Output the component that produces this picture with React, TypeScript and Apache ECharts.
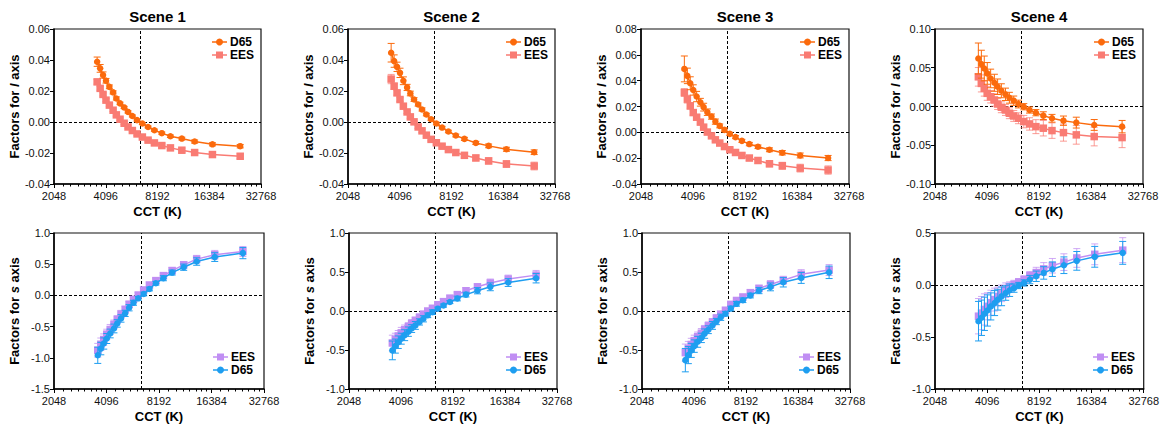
import React, { useEffect, useRef } from "react";
import * as echarts from "echarts";

// ---------- data ----------
const CCT = [3650, 3800, 3950, 4110, 4300, 4520, 4720, 4960, 5240, 5520, 5850, 6230, 6690, 7220, 7860, 8680, 9740, 11350, 13470, 17100, 24800];
const X_TICKS = [2048, 4096, 8192, 16384, 32768];
const D65_CCT = 6504;
const SCENES = ["Scene 1", "Scene 2", "Scene 3", "Scene 4"];

// l axis (top row)
const L1_D65 = [0.0389, 0.0346, 0.0303, 0.0266, 0.0227, 0.0191, 0.0152, 0.012, 0.0094, 0.0065, 0.0039, 0.0012, -0.001, -0.0032, -0.0053, -0.0072, -0.0092, -0.0107, -0.0126, -0.0144, -0.0156];
const L1_D65_ERR = [0.003, 0.0025, 0.002, 0.0015, 0.0012, 0.001, 0.001, 0.0008, 0.0007, 0.0007, 0.0006, 0.0006, 0.0006, 0.0006, 0.0007, 0.0007, 0.0008, 0.0009, 0.001, 0.001, 0.0011];
const L1_EES = [0.0259, 0.0217, 0.0178, 0.0141, 0.0109, 0.0076, 0.0046, 0.0018, -0.0008, -0.0032, -0.0055, -0.0077, -0.0097, -0.0117, -0.0135, -0.0152, -0.0167, -0.0182, -0.0197, -0.021, -0.0221];
const L1_EES_ERR = [0.0015, 0.0012, 0.001, 0.001, 0.0009, 0.0008, 0.0008, 0.0008, 0.0008, 0.0008, 0.0008, 0.0009, 0.0009, 0.001, 0.001, 0.0011, 0.0012, 0.0013, 0.0014, 0.0015, 0.0016];

const L2_D65 = [0.0447, 0.0393, 0.0356, 0.0317, 0.0266, 0.0223, 0.0184, 0.0145, 0.0113, 0.0081, 0.0048, 0.0018, -0.001, -0.0036, -0.0061, -0.0087, -0.0109, -0.0135, -0.0154, -0.0176, -0.0195];
const L2_D65_ERR = [0.006, 0.004, 0.003, 0.003, 0.0025, 0.002, 0.0015, 0.0012, 0.001, 0.001, 0.0008, 0.0008, 0.0008, 0.0008, 0.0008, 0.0009, 0.001, 0.001, 0.0012, 0.0013, 0.0015];
const L2_EES = [0.0277, 0.0231, 0.0188, 0.0145, 0.0102, 0.0065, 0.0033, 0.0001, -0.0032, -0.0057, -0.0085, -0.0112, -0.0134, -0.0156, -0.0178, -0.0197, -0.0215, -0.0232, -0.0251, -0.0271, -0.0284];
const L2_EES_ERR = [0.003, 0.002, 0.0015, 0.0012, 0.001, 0.001, 0.001, 0.001, 0.001, 0.001, 0.001, 0.001, 0.0012, 0.0012, 0.0013, 0.0015, 0.0016, 0.0018, 0.002, 0.0022, 0.0025];

const L3_D65 = [0.0491, 0.0437, 0.038, 0.0328, 0.0277, 0.0233, 0.0195, 0.0156, 0.0122, 0.0083, 0.005, 0.0019, -0.0012, -0.0037, -0.0066, -0.0091, -0.0112, -0.0135, -0.0158, -0.0179, -0.0199];
const L3_D65_ERR = [0.01, 0.006, 0.005, 0.004, 0.004, 0.003, 0.003, 0.0025, 0.002, 0.002, 0.0015, 0.0015, 0.0012, 0.0012, 0.0012, 0.0013, 0.0014, 0.0015, 0.0017, 0.0019, 0.002];
const L3_EES = [0.0308, 0.0257, 0.0205, 0.0153, 0.0117, 0.0079, 0.004, 0.0002, -0.0027, -0.0058, -0.0083, -0.011, -0.0135, -0.0156, -0.0179, -0.0199, -0.0218, -0.0243, -0.0259, -0.0277, -0.0292];
const L3_EES_ERR = [0.003, 0.003, 0.0025, 0.002, 0.002, 0.0015, 0.0015, 0.0012, 0.0012, 0.0012, 0.0012, 0.0013, 0.0015, 0.0017, 0.0018, 0.002, 0.0022, 0.0025, 0.0027, 0.003, 0.0032];

const L4_D65 = [0.0619, 0.0546, 0.0491, 0.0427, 0.0362, 0.0306, 0.0255, 0.0203, 0.0157, 0.0113, 0.0075, 0.0032, -0.0003, -0.0045, -0.008, -0.0118, -0.0152, -0.0183, -0.0208, -0.0238, -0.026];
const L4_D65_ERR = [0.02, 0.018, 0.016, 0.014, 0.012, 0.011, 0.01, 0.009, 0.008, 0.007, 0.006, 0.005, 0.004, 0.004, 0.004, 0.005, 0.005, 0.006, 0.007, 0.007, 0.008];
const L4_EES = [0.0383, 0.0298, 0.0234, 0.017, 0.0126, 0.0084, 0.0032, -0.001, -0.0045, -0.0087, -0.0122, -0.0152, -0.0195, -0.0225, -0.026, -0.028, -0.0311, -0.0337, -0.0366, -0.0388, -0.0401];
const L4_EES_ERR = [0.012, 0.011, 0.01, 0.009, 0.008, 0.008, 0.007, 0.007, 0.007, 0.007, 0.007, 0.007, 0.008, 0.008, 0.009, 0.01, 0.01, 0.011, 0.012, 0.012, 0.013];

// s axis (bottom row)
const S1_D65 = [-0.96, -0.852, -0.771, -0.691, -0.61, -0.53, -0.449, -0.369, -0.288, -0.198, -0.118, -0.047, 0.023, 0.103, 0.195, 0.275, 0.366, 0.452, 0.543, 0.614, 0.678];
const S1_D65_ERR = [0.13, 0.1, 0.09, 0.08, 0.07, 0.07, 0.06, 0.06, 0.05, 0.05, 0.04, 0.03, 0.03, 0.03, 0.03, 0.04, 0.04, 0.05, 0.06, 0.07, 0.09];
const S1_EES = [-0.879, -0.783, -0.707, -0.622, -0.546, -0.465, -0.385, -0.3, -0.224, -0.143, -0.063, 0.006, 0.087, 0.167, 0.237, 0.317, 0.398, 0.49, 0.581, 0.651, 0.704];
const S1_EES_ERR = [0.11, 0.1, 0.09, 0.08, 0.08, 0.07, 0.06, 0.06, 0.05, 0.05, 0.04, 0.04, 0.03, 0.03, 0.04, 0.04, 0.05, 0.05, 0.06, 0.07, 0.08];

const S2_D65 = [-0.505, -0.45, -0.4, -0.355, -0.31, -0.265, -0.225, -0.185, -0.14, -0.1, -0.055, -0.015, 0.03, 0.07, 0.115, 0.16, 0.21, 0.26, 0.31, 0.365, 0.42];
const S2_D65_ERR = [0.12, 0.09, 0.08, 0.07, 0.07, 0.06, 0.05, 0.05, 0.04, 0.04, 0.03, 0.03, 0.02, 0.02, 0.02, 0.03, 0.03, 0.04, 0.05, 0.05, 0.06];
const S2_EES = [-0.41, -0.365, -0.32, -0.28, -0.24, -0.2, -0.16, -0.12, -0.08, -0.04, 0.0, 0.035, 0.08, 0.12, 0.165, 0.21, 0.26, 0.31, 0.36, 0.41, 0.46];
const S2_EES_ERR = [0.1, 0.08, 0.07, 0.07, 0.06, 0.05, 0.05, 0.04, 0.04, 0.03, 0.03, 0.03, 0.02, 0.02, 0.03, 0.03, 0.04, 0.04, 0.05, 0.05, 0.06];

const S3_D65 = [-0.63, -0.565, -0.505, -0.45, -0.395, -0.345, -0.29, -0.24, -0.185, -0.135, -0.08, -0.035, 0.032, 0.092, 0.138, 0.198, 0.262, 0.309, 0.368, 0.424, 0.496];
const S3_D65_ERR = [0.15, 0.11, 0.09, 0.08, 0.07, 0.06, 0.06, 0.05, 0.05, 0.04, 0.04, 0.03, 0.03, 0.03, 0.03, 0.03, 0.04, 0.05, 0.06, 0.07, 0.08];
const S3_EES = [-0.534, -0.48, -0.43, -0.38, -0.33, -0.285, -0.235, -0.19, -0.14, -0.09, -0.04, 0.01, 0.085, 0.135, 0.18, 0.235, 0.29, 0.34, 0.395, 0.47, 0.525];
const S3_EES_ERR = [0.11, 0.09, 0.08, 0.07, 0.06, 0.06, 0.05, 0.05, 0.04, 0.04, 0.03, 0.03, 0.03, 0.03, 0.03, 0.04, 0.04, 0.05, 0.05, 0.06, 0.07];

const S4_D65 = [-0.348, -0.315, -0.277, -0.245, -0.206, -0.174, -0.141, -0.109, -0.077, -0.05, -0.03, -0.005, 0.02, 0.052, 0.084, 0.116, 0.152, 0.19, 0.232, 0.271, 0.309];
const S4_D65_ERR = [0.19, 0.17, 0.16, 0.15, 0.13, 0.12, 0.1, 0.09, 0.07, 0.06, 0.04, 0.03, 0.03, 0.04, 0.05, 0.06, 0.07, 0.08, 0.09, 0.1, 0.11];
const S4_EES = [-0.3, -0.27, -0.235, -0.205, -0.17, -0.14, -0.11, -0.08, -0.05, -0.02, 0.005, 0.03, 0.055, 0.09, 0.12, 0.155, 0.185, 0.22, 0.26, 0.295, 0.335];
const S4_EES_ERR = [0.17, 0.16, 0.15, 0.13, 0.12, 0.11, 0.09, 0.08, 0.07, 0.05, 0.04, 0.03, 0.03, 0.04, 0.05, 0.06, 0.07, 0.08, 0.09, 0.1, 0.12];

const L_MIN = [-0.04, -0.04, -0.04, -0.1];
const L_MAX = [0.06, 0.06, 0.08, 0.1];
const L_STEP = [0.02, 0.02, 0.02, 0.05];
const S_MIN = [-1.5, -1.0, -1.0, -1.0];
const S_MAX = [1.0, 1.0, 1.0, 0.5];
const S_STEP = [0.5, 0.5, 0.5, 0.5];

const L_D65 = [L1_D65, L2_D65, L3_D65, L4_D65];
const L_D65_ERR = [L1_D65_ERR, L2_D65_ERR, L3_D65_ERR, L4_D65_ERR];
const L_EES = [L1_EES, L2_EES, L3_EES, L4_EES];
const L_EES_ERR = [L1_EES_ERR, L2_EES_ERR, L3_EES_ERR, L4_EES_ERR];
const S_D65 = [S1_D65, S2_D65, S3_D65, S4_D65];
const S_D65_ERR = [S1_D65_ERR, S2_D65_ERR, S3_D65_ERR, S4_D65_ERR];
const S_EES = [S1_EES, S2_EES, S3_EES, S4_EES];
const S_EES_ERR = [S1_EES_ERR, S2_EES_ERR, S3_EES_ERR, S4_EES_ERR];

// ---------- styles ----------
const ORANGE = "#FB6A0C";
const SALMON = "#F97B73";
const PURPLE = "#C08EF3";
const BLUE = "#1E9EF0";
const FONT = "'Liberation Sans', Arial, Helvetica, sans-serif";

const GRIDS = [
  { left: 54, top: 29, width: 207, height: 155 },
  { left: 348, top: 29, width: 207, height: 155 },
  { left: 641, top: 29, width: 208, height: 155 },
  { left: 935, top: 29, width: 208, height: 155 },
  { left: 54, top: 233, width: 210, height: 156 },
  { left: 349, top: 233, width: 208, height: 156 },
  { left: 642, top: 233, width: 208, height: 156 },
  { left: 935, top: 233, width: 209, height: 156 },
];

function errRender(color: string, opacity: number) {
  return (params: any, api: any) => {
    const x = api.value(0);
    const lo = api.coord([x, api.value(1)]);
    const hi = api.coord([x, api.value(2)]);
    const w = 3.5;
    const style = { stroke: color, lineWidth: 1, opacity };
    return {
      type: "group",
      children: [
        { type: "line", shape: { x1: lo[0], y1: lo[1], x2: hi[0], y2: hi[1] }, style },
        { type: "line", shape: { x1: lo[0] - w, y1: lo[1], x2: lo[0] + w, y2: lo[1] }, style },
        { type: "line", shape: { x1: hi[0] - w, y1: hi[1], x2: hi[0] + w, y2: hi[1] }, style },
      ],
    };
  };
}

function fmtY(dec: number) {
  return (v: number) => (Math.abs(v) < 1e-9 ? 0 : v).toFixed(dec);
}

function legendEntry(x: number, y: number, color: string, shape: "circle" | "square", label: string) {
  const sym =
    shape === "circle"
      ? { type: "circle", shape: { cx: 7.5, cy: 0, r: 3.5 }, style: { fill: color } }
      : { type: "rect", shape: { x: 4, y: -3.5, width: 7, height: 7 }, style: { fill: color } };
  return {
    type: "group",
    x,
    y,
    silent: true,
    children: [
      { type: "line", shape: { x1: 0, y1: 0, x2: 15, y2: 0 }, style: { stroke: color, lineWidth: 1.5 } },
      sym,
      {
        type: "text",
        x: 18,
        y: 0,
        style: {
          text: label,
          font: `bold 12px ${FONT}`,
          fill: "#000",
          align: "left",
          verticalAlign: "middle",
          textAlign: "left",
          textVerticalAlign: "middle",
        },
      },
    ],
  };
}

function buildOption() {
  const grid: any[] = [];
  const xAxis: any[] = [];
  const yAxis: any[] = [];
  const series: any[] = [];
  const graphic: any[] = [];

  GRIDS.forEach((g, gi) => {
    const top = gi < 4;
    const col = gi % 4;
    grid.push({ ...g, show: true, borderColor: "#111", borderWidth: 1.2, backgroundColor: "transparent" });
    xAxis.push({
      type: "log",
      logBase: 2,
      min: X_TICKS[0],
      max: X_TICKS[X_TICKS.length - 1],
      gridIndex: gi,
      splitNumber: 4,
      name: "CCT (K)",
      nameLocation: "middle",
      nameGap: 21,
      nameTextStyle: { fontFamily: FONT, fontWeight: "bold", fontSize: 13, color: "#000" },
      axisLine: { show: true, onZero: false, lineStyle: { color: "#000", width: 1.5 } },
      axisTick: { show: true, length: 4, lineStyle: { color: "#000", width: 1 } },
      minorTick: { show: true, splitNumber: 8, length: 2.5, lineStyle: { color: "#000", width: 1 } },
      splitLine: { show: false },
      minorSplitLine: { show: false },
      axisLabel: {
        fontFamily: FONT,
        fontSize: 11,
        color: "#111",
        margin: 6,
        formatter: (v: number) => String(Math.round(v)),
      },
    });
    yAxis.push({
      type: "value",
      gridIndex: gi,
      min: top ? L_MIN[col] : S_MIN[col],
      max: top ? L_MAX[col] : S_MAX[col],
      interval: top ? L_STEP[col] : S_STEP[col],
      name: top ? "Factors for {i|l} axis" : "Factors for {i|s} axis",
      nameLocation: "middle",
      nameGap: 33,
      nameTextStyle: {
        fontFamily: FONT,
        fontWeight: "bold",
        fontSize: 13,
        color: "#000",
        rich: { i: { fontFamily: FONT, fontWeight: "bold", fontStyle: "italic", fontSize: 13, color: "#000" } },
      },
      axisLine: { show: true, onZero: false, lineStyle: { color: "#000", width: 1.5 } },
      axisTick: { show: true, length: 4, lineStyle: { color: "#000", width: 1 } },
      splitLine: { show: false },
      axisLabel: { fontFamily: FONT, fontSize: 11, color: "#111", margin: 4, formatter: fmtY(top ? 2 : 1) },
    });

    const sets = top
      ? [
          { name: "EES", vals: L_EES[col], err: L_EES_ERR[col], color: SALMON, sym: "rect", size: 7.5, eop: 0.75 },
          { name: "D65", vals: L_D65[col], err: L_D65_ERR[col], color: ORANGE, sym: "circle", size: 6.5, eop: 1 },
        ]
      : [
          { name: "EES", vals: S_EES[col], err: S_EES_ERR[col], color: PURPLE, sym: "rect", size: 7.5, eop: 0.75 },
          { name: "D65", vals: S_D65[col], err: S_D65_ERR[col], color: BLUE, sym: "circle", size: 6.5, eop: 1 },
        ];

    sets.forEach((s, si) => {
      series.push({
        type: "custom",
        name: s.name + " err",
        xAxisIndex: gi,
        yAxisIndex: gi,
        z: 2 + si * 2,
        silent: true,
        renderItem: errRender(s.color, s.eop),
        encode: { x: 0, y: [1, 2] },
        data: CCT.map((c, i) => [c, s.vals[i] - s.err[i], s.vals[i] + s.err[i]]),
      });
      series.push({
        type: "line",
        name: s.name,
        xAxisIndex: gi,
        yAxisIndex: gi,
        z: 3 + si * 2,
        silent: true,
        symbol: s.sym,
        symbolSize: s.size,
        showSymbol: true,
        lineStyle: { color: s.color, width: 1.5 },
        itemStyle: { color: s.color },
        data: CCT.map((c, i) => [c, s.vals[i]]),
        markLine:
          si === 0
            ? {
                silent: true,
                symbol: ["none", "none"],
                label: { show: false },
                lineStyle: { color: "#000", width: 1, type: [3, 2] },
                data: [{ xAxis: D65_CCT }, { yAxis: 0 }],
                z: 1,
              }
            : undefined,
      });
    });

    if (top) {
      graphic.push({
        type: "text",
        x: g.left + g.width / 2,
        y: 16,
        silent: true,
        style: {
          text: SCENES[col],
          font: `bold 15px ${FONT}`,
          fill: "#000",
          align: "center",
          verticalAlign: "middle",
          textAlign: "center",
          textVerticalAlign: "middle",
        },
      });
      const r = g.left + g.width;
      graphic.push(legendEntry(r - 49, g.top + 13, ORANGE, "circle", "D65"));
      graphic.push(legendEntry(r - 49, g.top + 26, SALMON, "square", "EES"));
    } else {
      const r = g.left + g.width;
      const b = g.top + g.height;
      graphic.push(legendEntry(r - 51, b - 32, PURPLE, "square", "EES"));
      graphic.push(legendEntry(r - 51, b - 19, BLUE, "circle", "D65"));
    }
  });

  return { animation: false, backgroundColor: "#fff", grid, xAxis, yAxis, series, graphic };
}

export default function App() {
  const ref = useRef<HTMLDivElement>(null);
  useEffect(() => {
    if (!ref.current) return;
    const chart = echarts.init(ref.current, undefined, { renderer: "svg" });
    chart.setOption(buildOption() as any);
    return () => chart.dispose();
  }, []);
  return (
    <div
      ref={ref}
      style={{ position: "fixed", left: 0, top: 0, width: 1162, height: 426, background: "#fff" }}
    />
  );
}
